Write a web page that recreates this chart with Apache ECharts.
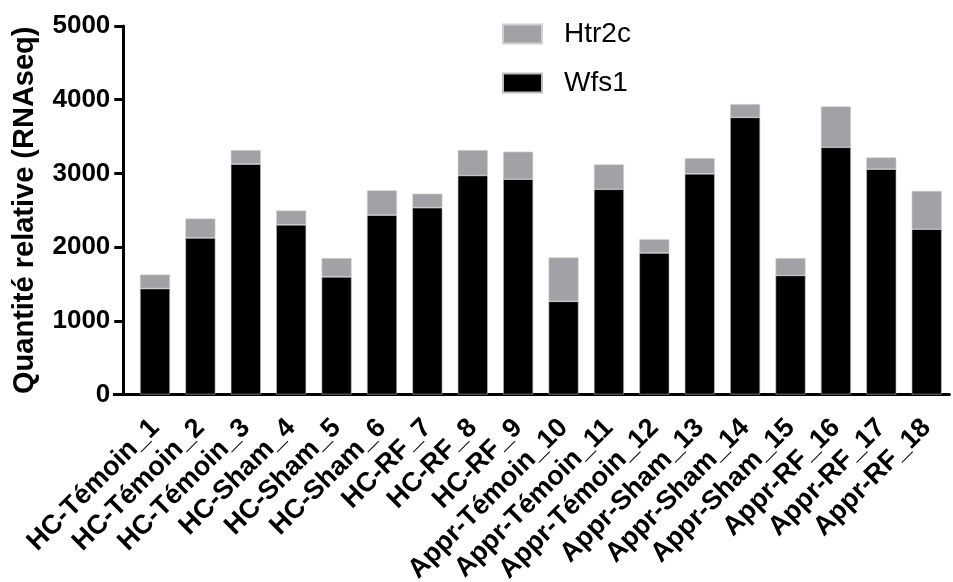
<!DOCTYPE html>
<html>
<head>
<meta charset="utf-8">
<script src="https://cdn.jsdelivr.net/npm/echarts@6/dist/echarts.min.js"></script>
<style>html,body{margin:0;padding:0;background:#fff}#c{width:953px;height:582px}</style>
</head>
<body>
<div id="c"></div>
<script>
const categories = ['HC-Témoin_1','HC-Témoin_2','HC-Témoin_3','HC-Sham_4','HC-Sham_5','HC-Sham_6','HC-RF_7','HC-RF_8','HC-RF_9','Appr-Témoin_10','Appr-Témoin_11','Appr-Témoin_12','Appr-Sham_13','Appr-Sham_14','Appr-Sham_15','Appr-RF_16','Appr-RF_17','Appr-RF_18'];
const wfs1 = [1437,2124,3126,2302,1596,2434,2534,2971,2921,1264,2784,1919,2994,3760,1615,3354,3057,2243];
const totals = [1628,2388,3317,2497,1851,2770,2725,3317,3295,1860,3122,2106,3208,3941,1851,3910,3217,2762];
const htr2c = totals.map((t,i)=>t-wfs1[i]);
const yTicks = [0,1000,2000,3000,4000,5000];

const FONT = '"Liberation Sans", Arial, Helvetica, sans-serif';
const chart = echarts.init(document.getElementById('c'), null, {renderer:'canvas'});
chart.setOption({
  animation:false,
  backgroundColor:'#fff',
  grid:{left:132.3, right:3.6, top:26, bottom:187.5, containLabel:false, outerBoundsMode:'none'},
  legend:{
    orient:'vertical', left:497, top:15, itemWidth:39, itemHeight:19, itemGap:21,
    icon:'rect', data:['Htr2c','Wfs1'],
    textStyle:{fontFamily:FONT, fontSize:28, color:'#000', padding:[0,0,0,17]}
  },
  xAxis:{
    type:'category', data:categories,
    axisLine:{lineStyle:{color:'#000', width:3}},
    axisTick:{alignWithLabel:true, length:9, lineStyle:{color:'#000', width:3}},
    axisLabel:{rotate:45, interval:0, margin:29, color:'#000', fontFamily:FONT, fontWeight:'bold', fontSize:27}
  },
  yAxis:{
    type:'value', min:yTicks[0], max:yTicks[yTicks.length-1], interval:1000, offset:9,
    name:'Quantité relative (RNAseq)', nameLocation:'middle', nameGap:84,
    nameTextStyle:{fontFamily:FONT, fontSize:29, fontWeight:'bold', color:'#000'},
    axisLine:{show:true, lineStyle:{color:'#000', width:3}},
    axisTick:{show:true, length:9, lineStyle:{color:'#000', width:3}},
    axisLabel:{margin:13, color:'#000', fontFamily:FONT, fontWeight:'bold', fontSize:26, formatter:(v)=>String(v)},
    splitLine:{show:false}
  },
  series:[
    {name:'Wfs1', type:'bar', stack:'s', data:wfs1, barWidth:30,
     itemStyle:{color:'#000', borderColor:'#bdbdbd', borderWidth:0.6}},
    {name:'Htr2c', type:'bar', stack:'s', data:htr2c, barWidth:30,
     itemStyle:{color:'#a2a1a6', borderColor:'#d0d0d0', borderWidth:0.6}}
  ],
  graphic:[
    {type:'line', shape:{x1:113, y1:394.5, x2:133, y2:394.5}, style:{stroke:'#000', lineWidth:3}}
  ]
});
</script>
</body>
</html>
